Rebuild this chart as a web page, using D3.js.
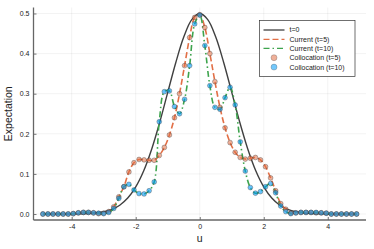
<!doctype html>
<html>
<head>
<meta charset="utf-8">
<script src="https://d3js.org/d3.v7.min.js"></script>
<style>
  body { margin: 0; background: #fff; }
  text { font-family: "Liberation Sans", Arial, sans-serif; fill: #222; }
</style>
</head>
<body>
<script>
// collocation grid (u)
var uGrid = [-4.900, -4.742, -4.584, -4.426, -4.268, -4.110, -3.952, -3.794, -3.635, -3.477,
  -3.319, -3.161, -3.003, -2.845, -2.687, -2.529, -2.371, -2.213, -2.055, -1.897,
  -1.739, -1.581, -1.423, -1.265, -1.106, -0.948, -0.790, -0.632, -0.474, -0.316,
  -0.158, 0.000, 0.158, 0.316, 0.474, 0.632, 0.790, 0.948, 1.106, 1.265,
  1.423, 1.581, 1.739, 1.897, 2.055, 2.213, 2.371, 2.529, 2.687, 2.845,
  3.003, 3.161, 3.319, 3.477, 3.635, 3.794, 3.952, 4.110, 4.268, 4.426,
  4.584, 4.742, 4.900];

// expectation at t=5
var valsT5 = [0, 0, 0, 0, 0, 0, 0.001, 0.003, 0.004, 0.004,
  0.003, 0.001, 0.002, 0.006, 0.018, 0.043, 0.068, 0.105, 0.128, 0.136,
  0.135, 0.134, 0.134, 0.146, 0.166, 0.197, 0.240, 0.300, 0.370, 0.440,
  0.490, 0.497, 0.465, 0.400, 0.330, 0.266, 0.215, 0.178, 0.154, 0.141,
  0.137, 0.139, 0.141, 0.135, 0.118, 0.090, 0.058, 0.026, 0.012, 0.002,
  0.003, 0.004, 0.004, 0.004, 0.003, 0.003, 0.002, 0, 0, 0,
  0, 0, 0];

// expectation at t=10
var valsT10 = [0, 0, 0, 0, 0, 0, 0.001, 0.003, 0.004, 0.004,
  0.003, 0.002, 0.001, 0.004, 0.014, 0.039, 0.068, 0.074, 0.060, 0.051,
  0.050, 0.058, 0.080, 0.230, 0.305, 0.307, 0.268, 0.250, 0.286, 0.370,
  0.474, 0.496, 0.420, 0.320, 0.266, 0.261, 0.290, 0.316, 0.272, 0.180,
  0.107, 0.066, 0.052, 0.056, 0.068, 0.076, 0.053, 0.020, 0.006, 0.001,
  0.003, 0.004, 0.004, 0.004, 0.004, 0.003, 0.002, 0, 0, 0,
  0, 0, 0];

// initial condition t=0
var uT0 = [-4.9, -4.5, -4, -3.5, -3, -2.75, -2.5, -2.25, -2, -1.75, -1.5, -1.25, -1, -0.75, -0.5, -0.25,
  0, 0.25, 0.5, 0.75, 1, 1.25, 1.5, 1.75, 2, 2.25, 2.5, 2.75, 3, 3.5, 4, 4.5, 4.9];
var valsT0 = [0, 0, 0.0002, 0.0011, 0.0056, 0.0114, 0.022, 0.0398, 0.0677, 0.108, 0.1623, 0.2289, 0.3033, 0.3773, 0.4412, 0.4848,
  0.5, 0.4848, 0.4412, 0.3773, 0.3033, 0.2289, 0.1623, 0.108, 0.0677, 0.0398, 0.022, 0.0114, 0.0056, 0.0011, 0.0002, 0, 0];

var xTicks = [-4, -2, 0, 2, 4];
var yTicks = [0, 0.1, 0.2, 0.3, 0.4, 0.5];
var legendLabels = ["t=0", "Current (t=5)", "Current (t=10)", "Collocation (t=5)", "Collocation (t=10)"];

var W = 374, H = 249;
var plotL = 33.5, plotR = 366, plotT = 7.5, plotB = 220;

var svg = d3.select("body").append("svg")
    .attr("width", W)
    .attr("height", H);

var x = d3.scaleLinear().domain([-5.194, 5.194]).range([plotL, plotR]);
var y = d3.scaleLinear().domain([-0.0149, 0.5149]).range([plotB, plotT]);

// grid
svg.append("g").selectAll("line").data(xTicks).enter().append("line")
    .attr("x1", d => x(d)).attr("x2", d => x(d))
    .attr("y1", plotT).attr("y2", plotB)
    .attr("stroke", "#000").attr("stroke-opacity", 0.08).attr("stroke-width", 0.7);
svg.append("g").selectAll("line").data(yTicks).enter().append("line")
    .attr("x1", plotL).attr("x2", plotR)
    .attr("y1", d => y(d)).attr("y2", d => y(d))
    .attr("stroke", "#000").attr("stroke-opacity", 0.08).attr("stroke-width", 0.7);

// axes
var gx = svg.append("g")
    .attr("transform", "translate(0," + plotB + ")")
    .call(d3.axisBottom(x).tickValues(xTicks).tickSize(-3).tickSizeOuter(0).tickPadding(4)
      .tickFormat(d => String(d)));
var gy = svg.append("g")
    .attr("transform", "translate(" + plotL + ",0)")
    .call(d3.axisLeft(y).tickValues(yTicks).tickSize(-3).tickSizeOuter(0).tickPadding(4)
      .tickFormat(d3.format(".1f")));
[gx, gy].forEach(function(g) {
  g.select(".domain").remove();
  g.selectAll(".tick line").attr("stroke", "#555").attr("stroke-width", 0.8);
  g.selectAll(".tick text").attr("font-size", "7px").attr("fill", "#222")
    .attr("font-family", "Liberation Sans, Arial, sans-serif");
});
svg.append("line").attr("x1", plotL).attr("x2", plotR).attr("y1", plotB).attr("y2", plotB)
    .attr("stroke", "#666").attr("stroke-width", 1.3);
svg.append("line").attr("x1", plotL).attr("x2", plotL).attr("y1", plotT).attr("y2", plotB)
    .attr("stroke", "#666").attr("stroke-width", 1.3);

// axis labels
svg.append("text").attr("x", (plotL + plotR) / 2).attr("y", 242)
    .attr("text-anchor", "middle").attr("font-size", "10.5px").text("u");
svg.append("text").attr("transform", "translate(12," + ((plotT + plotB) / 2) + ") rotate(-90)")
    .attr("text-anchor", "middle").attr("font-size", "10.5px").text("Expectation");

var colT0 = "#404040", colT5 = "#e26f46", colT10 = "#3da44d", colP10 = "#009af9";

var line = d3.line().x(d => x(d[0])).y(d => y(d[1])).curve(d3.curveCatmullRom.alpha(0.5));
var dT0 = uT0.map((u, i) => [u, valsT0[i]]);
var dT5 = uGrid.map((u, i) => [u, valsT5[i]]);
var dT10 = uGrid.map((u, i) => [u, valsT10[i]]);

svg.append("path").attr("d", line(dT0)).attr("fill", "none")
    .attr("stroke", colT0).attr("stroke-width", 1.4);
svg.append("path").attr("d", line(dT5)).attr("fill", "none")
    .attr("stroke", colT5).attr("stroke-width", 1.6).attr("stroke-dasharray", "6,3");
svg.append("path").attr("d", line(dT10)).attr("fill", "none")
    .attr("stroke", colT10).attr("stroke-width", 1.6).attr("stroke-dasharray", "6,3,1.5,3");

svg.append("g").selectAll("circle").data(dT5).enter().append("circle")
    .attr("cx", d => x(d[0])).attr("cy", d => y(d[1])).attr("r", 2.4)
    .attr("fill", colT5).attr("fill-opacity", 0.55)
    .attr("stroke", "#333").attr("stroke-opacity", 0.7).attr("stroke-width", 0.5);
svg.append("g").selectAll("circle").data(dT10).enter().append("circle")
    .attr("cx", d => x(d[0])).attr("cy", d => y(d[1])).attr("r", 2.4)
    .attr("fill", colP10).attr("fill-opacity", 0.6)
    .attr("stroke", "#333").attr("stroke-opacity", 0.7).attr("stroke-width", 0.5);

// legend
var lg = svg.append("g").attr("transform", "translate(259.5,20.5)");
lg.append("rect").attr("width", 95.5).attr("height", 56)
    .attr("fill", "#fff").attr("stroke", "#333").attr("stroke-width", 0.7);
var rowY = [9.5, 18.8, 27.8, 37.2, 46.6];
legendLabels.forEach(function(lab, i) {
  var yy = rowY[i];
  if (i === 0) lg.append("line").attr("x1", 4).attr("x2", 25).attr("y1", yy).attr("y2", yy)
      .attr("stroke", colT0).attr("stroke-width", 1.3);
  if (i === 1) lg.append("line").attr("x1", 4).attr("x2", 25).attr("y1", yy).attr("y2", yy)
      .attr("stroke", colT5).attr("stroke-width", 1.3).attr("stroke-dasharray", "6,3");
  if (i === 2) lg.append("line").attr("x1", 4).attr("x2", 25).attr("y1", yy).attr("y2", yy)
      .attr("stroke", colT10).attr("stroke-width", 1.3).attr("stroke-dasharray", "6,3,1.5,3");
  if (i === 3) lg.append("circle").attr("cx", 14.5).attr("cy", yy).attr("r", 3)
      .attr("fill", colT5).attr("fill-opacity", 0.55).attr("stroke", "#333").attr("stroke-opacity", 0.5).attr("stroke-width", 0.5);
  if (i === 4) lg.append("circle").attr("cx", 14.5).attr("cy", yy).attr("r", 3)
      .attr("fill", colP10).attr("fill-opacity", 0.55).attr("stroke", "#333").attr("stroke-opacity", 0.5).attr("stroke-width", 0.5);
  lg.append("text").attr("x", 30).attr("y", yy).attr("dy", "0.35em")
      .attr("font-size", "7px").text(lab);
});
</script>
</body>
</html>
